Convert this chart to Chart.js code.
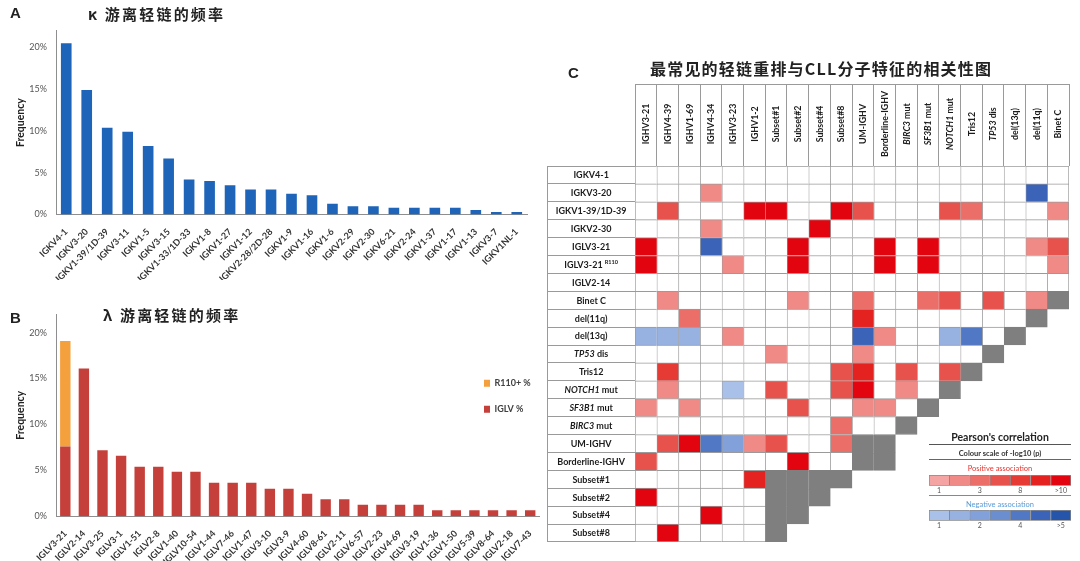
<!DOCTYPE html>
<html><head><meta charset="utf-8">
<script src="https://cdn.jsdelivr.net/npm/chart.js@4.4.1/dist/chart.umd.min.js"></script>
<style>
html,body{margin:0;padding:0;background:#fff;}
body{width:1080px;height:561px;position:relative;overflow:hidden;font-family:Lato,"Noto Sans",sans-serif;}
canvas{position:absolute;}
.t{position:absolute;white-space:nowrap;}
.letter{font-family:"Liberation Sans",Arial,sans-serif;font-weight:bold;font-size:15px;line-height:16px;color:#222;}
.cn{font-family:"Noto Sans CJK SC",sans-serif;font-weight:bold;color:#222;}
.lg{position:absolute;left:929px;width:142px;text-align:center;white-space:nowrap;}
.ln{position:absolute;left:929px;width:142px;height:0;}
</style></head><body>
<canvas id="cA" width="540" height="280" style="left:0;top:0"></canvas>
<canvas id="cB" width="540" height="271" style="left:0;top:290px"></canvas>
<canvas id="cC" width="540" height="480" style="left:540px;top:70px"></canvas>
<canvas id="cPos" width="160" height="26" style="left:920px;top:472px"></canvas>
<canvas id="cNeg" width="160" height="26" style="left:920px;top:507px"></canvas>

<div class="t letter" style="left:10px;top:5px">A</div>
<div class="t cn" style="left:88px;top:5px;font-size:15px;line-height:18px;letter-spacing:2.2px">κ 游离轻链的频率</div>
<div class="t letter" style="left:10px;top:310px">B</div>
<div class="t cn" style="left:103px;top:306px;font-size:15px;line-height:18px;letter-spacing:2.2px">λ 游离轻链的频率</div>
<div class="t letter" style="left:568px;top:65px">C</div>
<div class="t cn" style="left:650px;top:58px;font-size:16px;line-height:20px;letter-spacing:1.2px">最常见的轻链重排与CLL分子特征的相关性图</div>

<div class="lg" style="top:430px;line-height:14px;font-size:10.5px;font-weight:bold;color:#222">Pearson's correlation</div>
<div class="ln" style="top:444px;border-top:1.5px solid #555"></div>
<div class="lg" style="top:448px;line-height:11px;font-size:7.5px;font-weight:bold;color:#333">Colour scale of -log10 (p)</div>
<div class="ln" style="top:459px;border-top:1px solid #666"></div>
<div class="lg" style="top:463px;line-height:11px;font-size:7.5px;color:#e8332d">Positive association</div>
<div class="ln" style="top:495px;border-top:1px solid #888"></div>
<div class="lg" style="top:499px;line-height:11px;font-size:7.5px;color:#5b9bd5">Negative association</div>

<script>
// ---------- data ----------
const kappaGenes = ['IGKV4-1','IGKV3-20','IGKV1-39/1D-39','IGKV3-11','IGKV1-5','IGKV3-15','IGKV1-33/1D-33','IGKV1-8','IGKV1-27','IGKV1-12','IGKV2-28/2D-28','IGKV1-9','IGKV1-16','IGKV1-6','IGKV2-29','IGKV2-30','IGKV6-21','IGKV2-24','IGKV1-37','IGKV1-17','IGKV1-13','IGKV3-7','IGKV1NL-1'];
const kappaFreq = [20.5,14.9,10.4,9.9,8.2,6.7,4.2,4.0,3.5,3.0,3.0,2.5,2.3,1.3,1.0,1.0,0.8,0.8,0.8,0.8,0.55,0.3,0.3];

const lambdaGenes = ['IGLV3-21','IGLV2-14','IGLV3-25','IGLV3-1','IGLV1-51','IGLV2-8','IGLV1-40','IGLV10-54','IGLV1-44','IGLV7-46','IGLV1-47','IGLV3-10','IGLV3-9','IGLV4-60','IGLV8-61','IGLV2-11','IGLV6-57','IGLV2-23','IGLV4-69','IGLV3-19','IGLV1-36','IGLV1-50','IGLV5-39','IGLV8-64','IGLV2-18','IGLV7-43'];
const iglvFreq = [7.6,16.1,7.2,6.6,5.4,5.4,4.85,4.85,3.65,3.65,3.65,3.0,3.0,2.45,1.85,1.85,1.25,1.25,1.25,1.25,0.65,0.65,0.65,0.65,0.65,0.65];
const r110Freq = [11.5,0,0,0,0,0,0,0,0,0,0,0,0,0,0,0,0,0,0,0,0,0,0,0,0,0];

const freqTicks = [0,5,10,15,20];

const colLabels = ['IGHV3-21','IGHV4-39','IGHV1-69','IGHV4-34','IGHV3-23','IGHV1-2','Subset#1','Subset#2','Subset#4','Subset#8','UM-IGHV','Borderline-IGHV','BIRC3 mut','SF3B1 mut','NOTCH1 mut','Tris12','TP53 dis','del(13q)','del(11q)','Binet C'];
const rowLabels = ['IGKV4-1','IGKV3-20','IGKV1-39/1D-39','IGKV2-30','IGLV3-21','IGLV3-21^R110','IGLV2-14','Binet C','del(11q)','del(13q)','TP53 dis','Tris12','NOTCH1 mut','SF3B1 mut','BIRC3 mut','UM-IGHV','Borderline-IGHV','Subset#1','Subset#2','Subset#4','Subset#8'];
const italicGenes = ['TP53','NOTCH1','SF3B1','BIRC3'];
// association level: + red (1..7), - blue (-1..-7), 0 none, 'X' diagonal; cells beyond a row's end are not drawn
const heatRows = [
  [0,0,0,0,0,0,0,0,0,0,0,0,0,0,0,0,0,0,0,0],
  [0,0,0,2,0,0,0,0,0,0,0,0,0,0,0,0,0,0,-6,0],
  [0,4,0,0,0,7,7,0,0,7,4,0,0,0,4,3,0,0,0,2],
  [0,0,0,2,0,0,0,0,7,0,0,0,0,0,0,0,0,0,0,0],
  [7,0,0,-6,0,0,0,7,0,0,0,7,0,7,0,0,0,0,2,4],
  [7,0,0,0,2,0,0,7,0,0,0,7,0,7,0,0,0,0,0,2],
  [0,0,0,0,0,0,0,0,0,0,0,0,0,0,0,0,0,0,0,0],
  [0,2,0,0,0,0,0,2,0,0,3,0,0,3,4,0,4,0,2,'X'],
  [0,0,3,0,0,0,0,0,0,0,6,0,0,0,0,0,0,0,'X'],
  [-2,-2,-2,0,2,0,0,0,0,0,-6,2,0,0,-2,-5,0,'X'],
  [0,0,0,0,0,0,2,0,0,0,2,0,0,0,0,0,'X'],
  [0,5,0,0,0,0,0,0,0,4,6,0,4,0,4,'X'],
  [0,2,0,0,-1,0,4,0,0,4,7,0,2,0,'X'],
  [2,0,2,0,0,0,0,4,0,0,2,2,0,'X'],
  [0,0,0,0,0,0,0,0,0,3,0,0,'X'],
  [0,4,7,-5,-3,2,4,0,0,3,'X','X'],
  [4,0,0,0,0,0,0,7,0,0,'X','X'],
  [0,0,0,0,0,6,'X','X','X','X'],
  [7,0,0,0,0,0,'X','X','X'],
  [0,0,0,7,0,0,'X','X'],
  [0,7,0,0,0,0,'X']
];
const posLegendLabels = ['1','','3','','8','','>10'];
const negLegendLabels = ['1','','2','','4','','>5'];
const swatchUnits = [1,1,1,1,1,1,1];

// ---------- styles ----------
const FF = 'Lato, "Noto Sans", "DejaVu Sans", sans-serif';
const posScale = ['#f4a4a2','#ef8a86','#ec6e69','#e8524c','#e63a35','#e4221f','#e2050f'];
const negScale = ['#a9c0e8','#97b1e1','#82a0d9','#6a8ecf','#5078c4','#3b64b8','#2455ab'];
const diagGray = '#7f7f7f';
const gridLine = '#9a9a9a';
const axisCol = '#8e8e8e';
Chart.defaults.font.family = FF;
Chart.defaults.animation = false;

function cellColor(v) {
  if (v === 'X') return diagGray;
  if (!v) return '#ffffff';
  return v > 0 ? posScale[v - 1] : negScale[-v - 1];
}

function freqOptions(cfg) {
  return {
    responsive: false, animation: false, events: [],
    layout: { padding: cfg.padding },
    plugins: { legend: cfg.legend || { display: false }, tooltip: { enabled: false }, placeLegend: cfg.placeLegend },
    scales: {
      x: {
        stacked: !!cfg.stacked,
        grid: { display: false, drawTicks: false },
        border: { color: axisCol },
        ticks: { autoSkip: false, minRotation: 45, maxRotation: 45, padding: 12, color: '#333', font: { size: 9, weight: 'bold' } },
        afterFit(s) { s.height = cfg.xHeight; s.paddingLeft = 0; s.paddingRight = 0; }
      },
      y: {
        stacked: !!cfg.stacked,
        min: 0, max: 22,
        grid: { display: false, drawTicks: false },
        border: { color: axisCol },
        afterBuildTicks(s) { s.ticks = freqTicks.map(v => ({ value: v })); },
        ticks: { padding: 9, color: '#555', font: { size: 9 }, callback: v => v + '%' },
        title: { display: true, text: 'Frequency', color: '#222', font: { size: 10.5, weight: 'bold' }, padding: { top: 14, bottom: 0 } },
        afterFit(s) { s.width = 56; s.paddingTop = 0; s.paddingBottom = 0; }
      }
    }
  };
}

// move legend into plot area of panel B
const placeLegend = {
  id: 'placeLegend',
  afterLayout(chart, args, opts) {
    const lg = chart.legend;
    if (!lg || !opts || opts.x === undefined) return;
    const w = lg.width, h = lg.height;
    lg.left = opts.x; lg.top = opts.y; lg.right = opts.x + w; lg.bottom = opts.y + h;
  }
};
Chart.register(placeLegend);

// ---------- Panel A ----------
new Chart(document.getElementById('cA'), {
  type: 'bar',
  data: { labels: kappaGenes, datasets: [{ label: 'IGKV %', data: kappaFreq, backgroundColor: '#1e64b8', barPercentage: 0.52, categoryPercentage: 1 }] },
  options: freqOptions({ padding: { left: 0, right: 13, top: 30.8, bottom: 0 }, xHeight: 65.5 })
});

// ---------- Panel B ----------
new Chart(document.getElementById('cB'), {
  type: 'bar',
  data: { labels: lambdaGenes, datasets: [
    { label: 'IGLV %', data: iglvFreq, backgroundColor: '#c6403b', barPercentage: 0.56, categoryPercentage: 1 },
    { label: 'R110+ %', data: r110Freq, backgroundColor: '#f4a03c', barPercentage: 0.56, categoryPercentage: 1 }
  ] },
  options: freqOptions({
    padding: { left: 0, right: 0.5, top: 24.3, bottom: 0 }, xHeight: 44.7, stacked: true,
    legend: { display: true, position: 'chartArea', align: 'start', reverse: true,
      labels: { boxWidth: 6, boxHeight: 7, padding: 17, color: '#404040', font: { size: 9, weight: 'bold' } } },
    placeLegend: { x: 467, y: 71.8 }
  })
});

// ---------- Panel C (heat-map as stacked horizontal bars) ----------
function richSegments(label) {
  const segs = [];
  let main = label, sup = null;
  if (label.indexOf('^') >= 0) { [main, sup] = label.split('^'); }
  const sp = main.indexOf(' ');
  const first = sp >= 0 ? main.slice(0, sp) : main;
  if (italicGenes.includes(first)) {
    segs.push({ text: first, italic: true });
    segs.push({ text: main.slice(sp), italic: false });
  } else segs.push({ text: main, italic: false });
  if (sup) { segs.push({ text: ' ', italic: false }); segs.push({ text: sup, italic: false, sup: true }); }
  return segs;
}
function drawRich(ctx, label, cx, cy, size) {
  const segs = richSegments(label);
  const fontOf = s => (s.italic ? 'italic ' : '') + 'bold ' + (s.sup ? size * 0.62 : size) + 'px ' + FF;
  let total = 0;
  segs.forEach(s => { ctx.font = fontOf(s); s.w = ctx.measureText(s.text).width; total += s.w; });
  let x = cx - total / 2;
  ctx.textAlign = 'left'; ctx.textBaseline = 'middle';
  segs.forEach(s => { ctx.font = fontOf(s); ctx.fillText(s.text, x, s.sup ? cy - size * 0.35 : cy); x += s.w; });
}
const tableText = {
  id: 'tableText',
  afterDraw(chart) {
    const xs = chart.scales.x2, ys = chart.scales.y;
    if (!xs || !ys) return;
    const ctx = chart.ctx;
    ctx.save();
    ctx.fillStyle = '#1c1c1c';
    const cy = (xs.top + xs.bottom) / 2 - 1;
    colLabels.forEach((lab, i) => {
      ctx.save();
      ctx.translate(xs.getPixelForTick(i) + 0.5, cy);
      ctx.rotate(-Math.PI / 2);
      drawRich(ctx, lab, 0, 0, 8.8);
      ctx.restore();
    });
    const cx = (ys.left + ys.right) / 2;
    rowLabels.forEach((lab, i) => drawRich(ctx, lab, cx, ys.getPixelForTick(i) + 0.5, 9));
    ctx.restore();
  }
};

const heatDatasets = colLabels.map((c, j) => ({
  label: c,
  data: heatRows.map(r => (r[j] === undefined ? null : 1)),
  backgroundColor: heatRows.map(r => cellColor(r[j])),
  borderColor: heatRows.map(r => (r[j] === 'X' ? diagGray : gridLine)),
  borderWidth: heatRows.map((r, i) => ({
    top: 1, left: 1,
    right: r[j + 1] === undefined ? 1 : 0,
    bottom: (i === heatRows.length - 1 || heatRows[i + 1][j] === undefined) ? 1 : 0
  })),
  borderSkipped: false,
  barPercentage: 1, categoryPercentage: 1
}));

new Chart(document.getElementById('cC'), {
  type: 'bar',
  data: { labels: rowLabels, datasets: heatDatasets },
  plugins: [tableText],
  options: {
    indexAxis: 'y', responsive: false, animation: false, events: [],
    layout: { padding: { left: 7.3, right: 11, top: 14, bottom: 8.1 } },
    plugins: { legend: { display: false }, tooltip: { enabled: false } },
    scales: {
      x: { type: 'linear', stacked: true, min: 0, max: colLabels.length, display: false },
      x2: {
        type: 'category', labels: colLabels, position: 'top', offset: true,
        grid: { offset: true, drawOnChartArea: false, tickLength: 82, color: gridLine },
        ticks: { display: false }, border: { display: false },
        afterFit(s) { s.height = 82; s.paddingLeft = 0; s.paddingRight = 0; s.paddingTop = 0; s.paddingBottom = 0; }
      },
      xt: {
        type: 'linear', position: 'top', min: 0, max: 1, weight: 5,
        grid: { display: false }, ticks: { display: false },
        border: { display: true, color: gridLine, width: 1 },
        afterFit(s) { s.height = 0; s.paddingLeft = 0; s.paddingRight = 0; }
      },
      y: {
        type: 'category', stacked: true, offset: true,
        grid: { offset: true, drawOnChartArea: false, tickLength: 87.7, color: gridLine },
        ticks: { display: false }, border: { display: false },
        afterFit(s) { s.width = 87.7; s.paddingTop = 0; s.paddingBottom = 0; }
      },
      yb: {
        type: 'linear', position: 'left', min: 0, max: 1, weight: 5,
        grid: { display: false }, ticks: { display: false },
        border: { display: true, color: gridLine, width: 1 },
        afterFit(s) { s.width = 0; s.paddingTop = 0; s.paddingBottom = 0; }
      }
    }
  }
});

// ---------- colour-scale legend bars ----------
function legendBar(id, colors, labels) {
  new Chart(document.getElementById(id), {
    type: 'bar',
    data: { labels: labels, datasets: [{
      data: swatchUnits, backgroundColor: colors, borderColor: '#8a8a8a',
      borderWidth: colors.map((c, i) => ({ top: 1, bottom: 1, left: 1, right: i === colors.length - 1 ? 1 : 0 })),
      borderSkipped: false, barPercentage: 1, categoryPercentage: 1
    }] },
    options: {
      responsive: false, animation: false, events: [],
      layout: { padding: { left: 9, right: 9, top: 3, bottom: 0 } },
      plugins: { legend: { display: false }, tooltip: { enabled: false } },
      scales: {
        y: { display: false, min: 0, max: 1 },
        x: {
          grid: { display: false, drawTicks: false }, border: { display: false },
          ticks: { autoSkip: false, maxRotation: 0, padding: 1, color: '#555', font: { size: 7 } },
          afterFit(s) { s.height = 12.3; s.paddingLeft = 0; s.paddingRight = 0; }
        }
      }
    }
  });
}
legendBar('cPos', posScale, posLegendLabels);
legendBar('cNeg', negScale, negLegendLabels);
</script>
</body></html>
